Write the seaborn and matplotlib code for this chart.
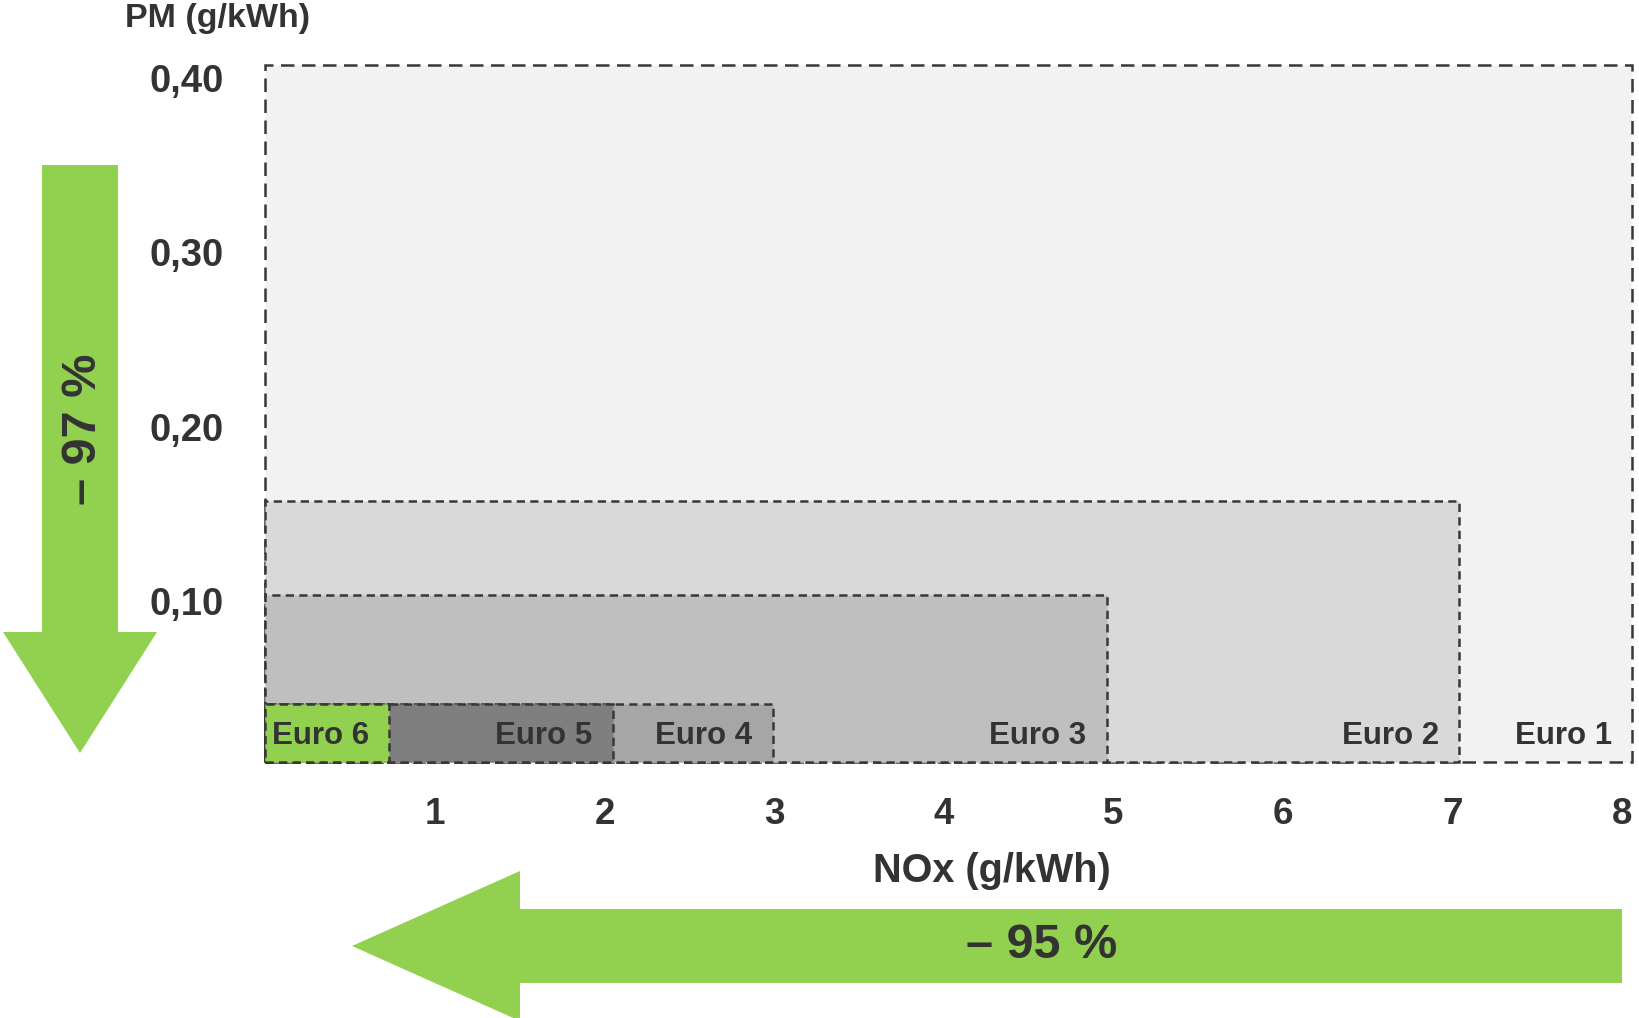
import matplotlib
matplotlib.use("Agg")
import matplotlib.pyplot as plt
import matplotlib.transforms as mtransforms
from matplotlib.patches import Polygon
import seaborn as sns

# ---- data ----
standards = ["Euro 1", "Euro 2", "Euro 3", "Euro 4", "Euro 5", "Euro 6"]
nox_limit = [8.06, 7.04, 4.96, 2.99, 2.05, 0.73]      # g/kWh
pm_limit = [0.40, 0.15, 0.096, 0.033, 0.033, 0.033]   # g/kWh
fill_colors = ["#f2f2f2", "#d9d9d9", "#bfbfbf", "#a6a6a6", "#7f7f7f", "#92d050"]
x_ticks = [1, 2, 3, 4, 5, 6, 7, 8]
y_ticks = [0.10, 0.20, 0.30, 0.40]
y_tick_labels = ["0,10", "0,20", "0,30", "0,40"]
nox_reduction = "– 95 %"
pm_reduction = "– 97 %"

sns.set_theme(style="white")
plt.rcParams["font.family"] = ["Liberation Sans", "DejaVu Sans"]
plt.rcParams["font.weight"] = "bold"

W, H = 1640, 1018
fig = plt.figure(figsize=(W / 100, H / 100), dpi=100)
fig.patch.set_facecolor("white")

TXT = "#333333"
GREEN = "#92d050"
EDGE = "#383838"

# axes placement (pixels, top-down)
x0_px, x1_px = 265.4, 1639.2
y_top_px, y_bot_px = 56.3, 762.0
ax = fig.add_axes([x0_px / W, 1 - y_bot_px / H, (x1_px - x0_px) / W, (y_bot_px - y_top_px) / H])
ax.set_xlim(0, 8.1)
ax.set_ylim(0, 0.405)
ax.set_facecolor("white")
sns.despine(ax=ax, left=True, bottom=True)

for i, (name, nox, pm, col) in enumerate(zip(standards, nox_limit, pm_limit, fill_colors)):
    dash = (0, (5.4, 3.0)) if i == 0 else (0, (3.3, 2.1))
    ax.bar(0, pm, width=nox, align="edge", color=col, edgecolor=EDGE,
           linewidth=1.8, linestyle=dash, clip_on=False)
    ax.text(nox - 0.12, 0.0105, name, ha="right", va="baseline", fontsize=22.5,
            fontweight="bold", color=TXT)

ax.set_xticks(x_ticks)
ax.set_xticklabels([str(v) for v in x_ticks], fontsize=26.5, fontweight="bold", color=TXT)
ax.set_yticks(y_ticks)
ax.set_yticklabels(y_tick_labels, fontsize=27.5, fontweight="bold", color=TXT)
ax.tick_params(axis="x", length=0, pad=25)
ax.tick_params(axis="y", length=0, pad=30)
off = mtransforms.ScaledTranslation(0, -13 / 100, fig.dpi_scale_trans)
for lab in ax.get_yticklabels():
    lab.set_transform(lab.get_transform() + off)
ax.grid(False)


def fp(x, y):
    return (x / W, 1 - y / H)


# vertical green arrow (PM reduction)
v_pts = [fp(42, 165), fp(118, 165), fp(118, 632), fp(157, 632), fp(80, 753),
         fp(3, 632), fp(42, 632)]
fig.patches.append(Polygon(v_pts, closed=True, transform=fig.transFigure,
                           facecolor=GREEN, edgecolor="none", zorder=0))
# horizontal green arrow (NOx reduction)
h_pts = [fp(1622, 909), fp(1622, 983), fp(520, 983), fp(520, 1021), fp(352, 946),
         fp(520, 871), fp(520, 909)]
fig.patches.append(Polygon(h_pts, closed=True, transform=fig.transFigure,
                           facecolor=GREEN, edgecolor="none", zorder=0))

fig.text(*fp(84, 429), pm_reduction, rotation=90, ha="center", va="center",
         fontsize=35, fontweight="bold", color=TXT)
fig.text(*fp(1042, 946), nox_reduction, ha="center", va="center",
         fontsize=35, fontweight="bold", color=TXT)

fig.text(*fp(218, 19), "PM (g/kWh)", ha="center", va="center",
         fontsize=24.5, fontweight="bold", color=TXT)
fig.text(*fp(992, 871), "NOx (g/kWh)", ha="center", va="center",
         fontsize=28.5, fontweight="bold", color=TXT)

fig.savefig("out.png", dpi=100, facecolor="white")
